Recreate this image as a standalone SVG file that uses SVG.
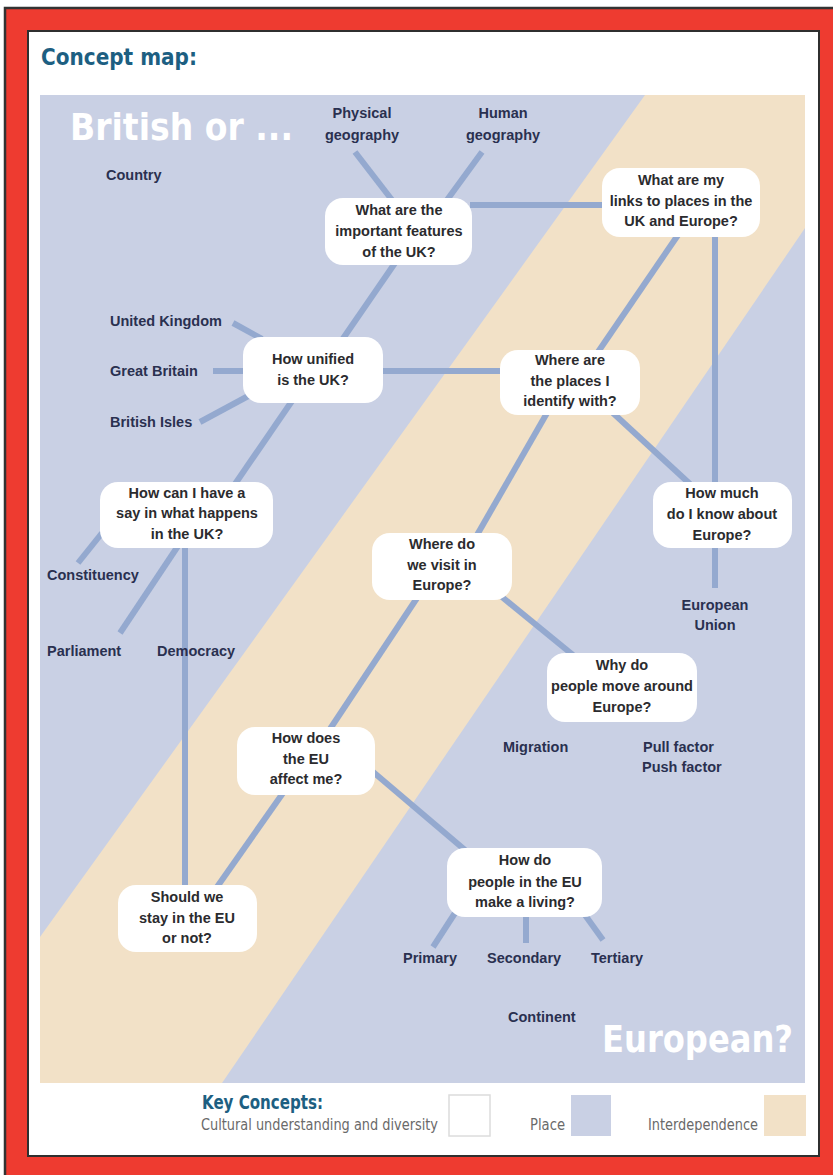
<svg xmlns="http://www.w3.org/2000/svg" width="833" height="1175" viewBox="0 0 833 1175">
<style>
.node rect{fill:#ffffff;}
.node text{font-family:"Liberation Sans",Arial,sans-serif;font-weight:bold;font-size:14.5px;fill:#2b2b2e;text-anchor:middle;}
.lbl{font-family:"Liberation Sans",Arial,sans-serif;font-weight:bold;font-size:14.5px;fill:#2a3050;}
.mid{text-anchor:middle;}
.big{font-family:"Liberation Sans Narrow","DejaVu Sans Condensed","Liberation Sans",sans-serif;font-weight:bold;font-size:38px;fill:#ffffff;}
.ttl{font-family:"Liberation Sans Narrow","DejaVu Sans Condensed","Liberation Sans",sans-serif;font-weight:bold;fill:#1d5f82;}
.leg{font-family:"Liberation Sans Narrow","DejaVu Sans Condensed","Liberation Sans",sans-serif;font-size:15px;fill:#6a6a6a;}
#connectors line{stroke:#94a9cf;stroke-width:6;stroke-linecap:butt;}
</style>
<rect x="0" y="0" width="833" height="1175" fill="#ffffff"/>
<rect x="5" y="8" width="840" height="1200" fill="#ee3b30" stroke="#333333" stroke-width="2.5"/>
<rect x="28" y="31" width="791" height="1125" fill="#ffffff" stroke="#2f2f2f" stroke-width="2"/>
<text class="ttl" x="41" y="65" font-size="23" textLength="156" lengthAdjust="spacingAndGlyphs">Concept map:</text>
<rect x="40" y="95" width="765" height="988" fill="#c9d0e4"/>
<polygon points="645,95 805,95 805,228 222,1083 40,1083 40,937" fill="#f2e1c7"/>
<text class="big" x="70" y="140" textLength="223" lengthAdjust="spacingAndGlyphs">British or ...</text>
<text class="big" x="602" y="1052" textLength="191" lengthAdjust="spacingAndGlyphs">European?</text>
<g id="connectors">
<line x1="355" y1="152" x2="392" y2="200"/>
<line x1="482" y1="152" x2="447" y2="200"/>
<line x1="470" y1="205" x2="605" y2="205"/>
<line x1="395" y1="263" x2="342" y2="340"/>
<line x1="233" y1="323" x2="262" y2="339"/>
<line x1="213" y1="371" x2="246" y2="371"/>
<line x1="200" y1="422" x2="252" y2="394"/>
<line x1="380" y1="371" x2="503" y2="371"/>
<line x1="292" y1="401" x2="235" y2="484"/>
<line x1="678" y1="235" x2="598" y2="352"/>
<line x1="715" y1="235" x2="715" y2="588"/>
<line x1="613" y1="413" x2="690" y2="484"/>
<line x1="547" y1="413" x2="477" y2="535"/>
<line x1="102" y1="533" x2="78" y2="563"/>
<line x1="178" y1="546" x2="120" y2="633"/>
<line x1="185" y1="546" x2="185" y2="887"/>
<line x1="417" y1="598" x2="330" y2="729"/>
<line x1="502" y1="597" x2="573" y2="655"/>
<line x1="283" y1="793" x2="217" y2="887"/>
<line x1="372" y1="771" x2="465" y2="850"/>
<line x1="455" y1="913" x2="433" y2="947"/>
<line x1="526" y1="915" x2="526" y2="943"/>
<line x1="585" y1="915" x2="603" y2="940"/>
</g>
<g id="n-features" class="node"><rect x="325" y="198" width="147" height="67" rx="18"/><text x="399" y="215">What are the</text><text x="399" y="236">important features</text><text x="399" y="257">of the UK?</text></g>
<g id="n-links" class="node"><rect x="602" y="168" width="158" height="69" rx="18"/><text x="681" y="185">What are my</text><text x="681" y="206">links to places in the</text><text x="681" y="226">UK and Europe?</text></g>
<g id="n-unified" class="node"><rect x="243" y="337" width="140" height="66" rx="18"/><text x="313" y="364">How unified</text><text x="313" y="385">is the UK?</text></g>
<g id="n-places" class="node"><rect x="500" y="350" width="140" height="65" rx="18"/><text x="570" y="365">Where are</text><text x="570" y="386">the places I</text><text x="570" y="406">identify with?</text></g>
<g id="n-howmuch" class="node"><rect x="653" y="482" width="139" height="66" rx="18"/><text x="722" y="498">How much</text><text x="722" y="519">do I know about</text><text x="722" y="540">Europe?</text></g>
<g id="n-say" class="node"><rect x="100" y="482" width="173" height="66" rx="18"/><text x="187" y="498">How can I have a</text><text x="187" y="518">say in what happens</text><text x="187" y="539">in the UK?</text></g>
<g id="n-visit" class="node"><rect x="372" y="533" width="140" height="67" rx="18"/><text x="442" y="549">Where do</text><text x="442" y="570">we visit in</text><text x="442" y="590">Europe?</text></g>
<g id="n-why" class="node"><rect x="547" y="653" width="150" height="69" rx="18"/><text x="622" y="670">Why do</text><text x="622" y="691">people move around</text><text x="622" y="712">Europe?</text></g>
<g id="n-affect" class="node"><rect x="237" y="727" width="138" height="68" rx="18"/><text x="306" y="743">How does</text><text x="306" y="764">the EU</text><text x="306" y="784">affect me?</text></g>
<g id="n-stay" class="node"><rect x="118" y="885" width="139" height="67" rx="18"/><text x="187" y="902">Should we</text><text x="187" y="923">stay in the EU</text><text x="187" y="943">or not?</text></g>
<g id="n-living" class="node"><rect x="447" y="848" width="155" height="69" rx="18"/><text x="525" y="865">How do</text><text x="525" y="887">people in the EU</text><text x="525" y="907">make a living?</text></g>
<g id="labels">
<text class="lbl mid" x="362" y="118">Physical</text><text class="lbl mid" x="362" y="140">geography</text>
<text class="lbl mid" x="503" y="118">Human</text><text class="lbl mid" x="503" y="140">geography</text>
<text class="lbl" x="106" y="180">Country</text>
<text class="lbl" x="110" y="326">United Kingdom</text>
<text class="lbl" x="110" y="376">Great Britain</text>
<text class="lbl" x="110" y="427">British Isles</text>
<text class="lbl" x="47" y="580">Constituency</text>
<text class="lbl" x="47" y="656">Parliament</text>
<text class="lbl" x="157" y="656">Democracy</text>
<text class="lbl mid" x="715" y="610">European</text><text class="lbl mid" x="715" y="630">Union</text>
<text class="lbl" x="503" y="752">Migration</text>
<text class="lbl" x="643" y="752">Pull factor</text>
<text class="lbl" x="642" y="772">Push factor</text>
<text class="lbl" x="403" y="963">Primary</text>
<text class="lbl" x="487" y="963">Secondary</text>
<text class="lbl" x="591" y="963">Tertiary</text>
<text class="lbl" x="508" y="1022">Continent</text>
</g>
<g id="legend">
<text class="ttl" x="202" y="1109" font-size="19" textLength="121" lengthAdjust="spacingAndGlyphs">Key Concepts:</text>
<text class="leg" x="201" y="1130" textLength="237" lengthAdjust="spacingAndGlyphs">Cultural understanding and diversity</text>
<rect x="449" y="1095" width="41" height="41" fill="#ffffff" stroke="#dcdcdc" stroke-width="1.5"/>
<text class="leg" x="530" y="1130" textLength="35" lengthAdjust="spacingAndGlyphs">Place</text>
<rect x="571" y="1095" width="40" height="41" fill="#c9d0e4"/>
<text class="leg" x="648" y="1130" textLength="110" lengthAdjust="spacingAndGlyphs">Interdependence</text>
<rect x="764" y="1095" width="42" height="41" fill="#f2e1c7"/>
</g>
</svg>
